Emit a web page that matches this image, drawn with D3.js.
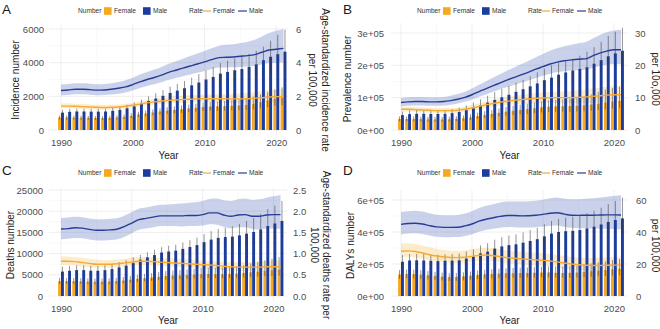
<!DOCTYPE html>
<html>
<head>
<meta charset="utf-8">
<script src="https://cdn.jsdelivr.net/npm/d3@7"></script>
<style>
body { margin: 0; background: #fff; }
svg { display: block; font-family: "Liberation Sans", Arial, sans-serif; }
</style>
</head>
<body>
<script>
// Years shown on every panel
const years = [1990,1991,1992,1993,1994,1995,1996,1997,1998,1999,2000,2001,2002,2003,2004,2005,
  2006,2007,2008,2009,2010,2011,2012,2013,2014,2015,2016,2017,2018,2019,2020,2021];

// A: incidence counts and age-standardized rates
const incFemale   = [740,740,740,730,720,710,710,720,740,780,840,920,980,1040,1100,1150,1190,1230,1280,1320,1370,1390,1400,1420,1440,1460,1500,1560,1650,1750,1850,1920];
const incFemaleLo = [620,620,620,610,600,590,590,600,620,650,700,770,820,870,920,960,990,1020,1060,1090,1130,1140,1140,1150,1160,1170,1190,1230,1290,1360,1430,1470];
const incFemaleHi = [860,860,860,850,840,830,830,840,870,920,990,1080,1150,1220,1290,1350,1400,1450,1510,1560,1620,1650,1680,1720,1760,1800,1870,1970,2110,2260,2410,2530];
const incMale     = [1030,1080,1100,1100,1090,1090,1100,1140,1200,1290,1400,1560,1720,1870,2030,2200,2340,2480,2650,2820,3000,3150,3350,3450,3550,3620,3750,3900,4150,4350,4500,4650];
const incMaleLo   = [880,920,940,940,930,930,940,970,1020,1100,1190,1320,1460,1590,1720,1860,1970,2080,2210,2340,2480,2590,2740,2800,2860,2890,2960,3050,3220,3340,3420,3500];
const incMaleHi   = [1200,1250,1270,1270,1260,1260,1270,1320,1390,1500,1630,1810,2000,2180,2370,2570,2740,2910,3110,3320,3540,3730,3980,4120,4260,4380,4520,4700,4950,5300,5650,5950];
const incRateFemale   = [1.42,1.42,1.41,1.39,1.37,1.35,1.34,1.35,1.37,1.41,1.47,1.54,1.61,1.67,1.72,1.76,1.79,1.81,1.83,1.85,1.86,1.86,1.86,1.85,1.85,1.85,1.86,1.88,1.92,1.96,1.98,1.98];
const incRateFemaleLo = [1.29,1.29,1.28,1.26,1.24,1.22,1.21,1.22,1.24,1.27,1.33,1.39,1.45,1.50,1.54,1.58,1.60,1.61,1.62,1.63,1.63,1.62,1.61,1.60,1.59,1.58,1.58,1.59,1.61,1.63,1.64,1.63];
const incRateFemaleHi = [1.57,1.57,1.56,1.54,1.52,1.50,1.49,1.50,1.52,1.56,1.62,1.70,1.78,1.85,1.91,1.96,2.00,2.03,2.06,2.09,2.11,2.12,2.13,2.14,2.16,2.18,2.21,2.25,2.31,2.37,2.41,2.43];
const incRateMale   = [2.35,2.38,2.42,2.42,2.40,2.37,2.38,2.42,2.48,2.56,2.70,2.86,3.00,3.12,3.26,3.42,3.55,3.68,3.80,3.92,4.05,4.18,4.30,4.32,4.34,4.38,4.42,4.48,4.62,4.75,4.80,4.85];
const incRateMaleLo = [2.05,2.08,2.12,2.12,2.10,2.07,2.08,2.11,2.16,2.23,2.36,2.50,2.62,2.72,2.84,2.98,3.09,3.20,3.30,3.40,3.51,3.62,3.72,3.72,3.73,3.75,3.77,3.80,3.90,3.98,4.00,4.02];
const incRateMaleHi = [2.70,2.73,2.77,2.77,2.75,2.72,2.73,2.78,2.85,2.95,3.10,3.29,3.45,3.59,3.75,3.93,4.09,4.24,4.39,4.54,4.70,4.86,5.01,5.06,5.10,5.17,5.25,5.36,5.56,5.76,5.89,6.00];
const incTicks = [0, 2000, 4000, 6000];
const incTickLabels = ["0", "2000", "4000", "6000"];
const incRateTicks = [0, 2, 4, 6];
const incRateTickLabels = ["0", "2", "4", "6"];

// B: prevalence
const prevFemale   = [34000,34000,34000,33500,33000,32500,32500,33000,34000,36000,39000,43000,46500,49500,53000,56500,59500,62000,64500,67000,70000,72000,73000,73500,74000,75000,76500,78500,81500,85000,88000,90000];
const prevFemaleLo = [27000,27000,27000,26500,26000,25800,25800,26200,27000,28600,31000,34000,36800,39000,41700,44300,46600,48400,50200,52000,54200,55600,56200,56400,56600,57200,58200,59600,61600,64000,66000,67300];
const prevFemaleHi = [42000,42000,42000,41500,41000,40500,40500,41000,42300,44800,48600,53700,58100,62000,66500,71000,75000,78300,81600,85000,89000,91800,93500,94500,96000,99000,104000,110000,118000,125000,130000,134000];
const prevMale     = [46000,49000,50000,50000,49500,49500,50000,52000,55500,61000,68000,76000,84500,93000,101000,109000,118000,126000,135000,144000,154000,162000,171000,178000,184000,189000,194000,205000,216000,228000,237000,245000];
const prevMaleLo   = [37700,40200,41000,41000,40600,40600,41000,42600,45500,50000,55800,62300,69300,76300,82800,89400,96800,103300,110700,118000,126300,132800,140200,146000,150900,155000,159100,168100,177100,187000,194300,200900];
const prevMaleHi   = [57000,60500,62000,62000,61300,61300,62000,64500,69000,76000,85000,95000,106000,117000,127000,137000,146000,155000,166000,178000,190000,200000,207000,212000,220000,230000,242000,256000,273000,291000,304000,316000];
const prevRateFemale   = [6.4,6.4,6.3,6.2,6.1,6.0,6.0,6.0,6.1,6.4,6.8,7.3,7.8,8.2,8.6,8.9,9.2,9.4,9.6,9.8,9.9,10.0,10.0,10.0,10.0,10.1,10.2,10.4,10.6,10.8,10.9,10.9];
const prevRateFemaleLo = [5.7,5.7,5.6,5.5,5.4,5.3,5.3,5.3,5.4,5.6,6.0,6.4,6.8,7.2,7.5,7.7,7.9,8.1,8.2,8.3,8.4,8.4,8.4,8.3,8.3,8.3,8.3,8.4,8.5,8.6,8.6,8.5];
const prevRateFemaleHi = [7.2,7.2,7.1,7.0,6.9,6.8,6.8,6.8,6.9,7.2,7.7,8.3,8.9,9.3,9.8,10.2,10.6,10.8,11.1,11.4,11.6,11.8,11.9,12.0,12.1,12.3,12.5,12.8,13.1,13.4,13.6,13.7];
const prevRateMale   = [8.5,8.7,8.8,8.8,8.7,8.7,8.8,9.1,9.5,10.1,10.9,11.9,12.8,13.7,14.6,15.5,16.3,17.1,17.9,18.8,19.6,20.4,21.0,21.4,21.7,21.9,22.0,22.9,23.8,24.4,24.8,24.8];
const prevRateMaleLo = [7.3,7.5,7.6,7.6,7.5,7.5,7.6,7.8,8.2,8.7,9.4,10.3,11.0,11.8,12.6,13.3,14.0,14.7,15.4,16.1,16.8,17.4,17.9,18.2,18.4,18.5,18.6,19.2,19.8,20.2,20.4,20.3];
const prevRateMaleHi = [9.9,10.1,10.2,10.2,10.1,10.1,10.2,10.6,11.1,11.8,12.8,14.0,15.1,16.2,17.3,18.4,19.4,20.4,21.4,22.5,23.5,24.5,25.3,25.9,26.4,26.8,27.2,28.3,29.4,30.2,30.8,31.0];
const prevTicks = [0, 100000, 200000, 300000];
const prevTickLabels = ["0e+00", "1e+05", "2e+05", "3e+05"];
const prevRateTicks = [0, 10, 20, 30];
const prevRateTickLabels = ["0", "10", "20", "30"];

// C: deaths
const deathFemale   = [3500,3500,3500,3450,3400,3350,3350,3400,3500,3650,3850,4050,4200,4350,4550,4700,4800,4850,4950,5050,5150,5200,5150,5150,5200,5300,5450,5600,5750,5900,6050,6200];
const deathFemaleLo = [2870,2870,2870,2830,2790,2750,2750,2790,2870,2990,3160,3320,3440,3570,3730,3850,3940,3980,4060,4140,4220,4260,4220,4200,4220,4290,4390,4480,4570,4660,4750,4830];
const deathFemaleHi = [4250,4250,4250,4200,4150,4100,4100,4150,4280,4470,4720,4980,5180,5380,5640,5850,6000,6100,6260,6420,6580,6680,6660,6700,6800,6980,7220,7700,8000,8400,8800,9200];
const deathMale     = [5750,5950,6100,6100,5950,5950,6100,6350,6750,7150,7750,8550,9100,9650,10250,10500,10700,11100,11550,12000,12700,13300,13700,13900,14000,14300,14700,15100,15700,16500,17100,17700];
const deathMaleLo   = [4900,5050,5200,5200,5050,5050,5200,5400,5750,6100,6600,7250,7700,8150,8650,8850,9000,9300,9650,10000,10550,11000,11300,11400,11450,11650,11900,12150,12550,13100,13500,13900];
const deathMaleHi   = [6900,7100,7250,7250,7100,7100,7250,7550,8000,8450,9150,9700,10300,10900,11500,11850,12100,12600,13200,13800,14600,15300,15800,16100,16400,17000,17700,18400,19400,20500,21300,22400];
const deathRateFemale   = [0.82,0.82,0.81,0.79,0.77,0.75,0.75,0.75,0.76,0.78,0.80,0.82,0.82,0.81,0.80,0.79,0.78,0.77,0.76,0.75,0.74,0.73,0.72,0.70,0.69,0.68,0.68,0.68,0.68,0.69,0.69,0.69];
const deathRateFemaleLo = [0.73,0.73,0.72,0.70,0.68,0.67,0.67,0.67,0.68,0.70,0.72,0.73,0.73,0.72,0.71,0.70,0.69,0.68,0.67,0.66,0.65,0.64,0.63,0.61,0.60,0.59,0.59,0.58,0.58,0.58,0.58,0.57];
const deathRateFemaleHi = [0.93,0.93,0.92,0.90,0.88,0.86,0.85,0.85,0.86,0.88,0.90,0.92,0.92,0.91,0.90,0.89,0.88,0.87,0.86,0.85,0.84,0.83,0.82,0.81,0.80,0.80,0.80,0.81,0.82,0.83,0.84,0.85];
const deathRateMale   = [1.58,1.59,1.61,1.60,1.57,1.55,1.55,1.56,1.58,1.64,1.72,1.80,1.83,1.86,1.89,1.89,1.89,1.89,1.90,1.90,1.92,1.96,1.96,1.91,1.88,1.91,1.92,1.88,1.88,1.91,1.92,1.92];
const deathRateMaleLo = [1.34,1.35,1.37,1.36,1.33,1.31,1.31,1.32,1.34,1.40,1.48,1.56,1.59,1.62,1.65,1.65,1.65,1.64,1.65,1.65,1.66,1.69,1.68,1.63,1.60,1.62,1.62,1.58,1.57,1.59,1.59,1.58];
const deathRateMaleHi = [1.84,1.85,1.87,1.86,1.83,1.81,1.81,1.82,1.84,1.90,1.98,2.06,2.09,2.12,2.15,2.16,2.17,2.18,2.20,2.21,2.24,2.29,2.30,2.26,2.24,2.28,2.30,2.27,2.28,2.32,2.35,2.38];
const deathTicks = [0, 5000, 10000, 15000, 20000, 25000];
const deathTickLabels = ["0", "5000", "10000", "15000", "20000", "25000"];
const deathRateTicks = [0, 0.5, 1, 1.5, 2, 2.5];
const deathRateTickLabels = ["0.0", "0.5", "1.0", "1.5", "2.0", "2.5"];

// D: DALYs
const dalyFemale   = [135000,138000,137000,134000,130000,126000,121000,118000,119000,123000,127000,132000,136000,138000,140000,142000,143000,143000,144000,145000,146000,147000,145000,144000,145000,147000,151000,155000,158000,162000,166000,170000];
const dalyFemaleLo = [108000,110000,110000,107000,104000,101000,97000,94000,95000,98000,102000,106000,109000,110000,112000,114000,114000,114000,115000,116000,117000,117000,115000,114000,114000,115000,118000,121000,123000,125000,128000,130000];
const dalyFemaleHi = [162000,166000,165000,161000,156000,151000,146000,142000,143000,148000,153000,159000,164000,167000,170000,173000,175000,176000,178000,180000,182000,184000,183000,183000,186000,190000,197000,204000,210000,217000,224000,231000];
const dalyMale     = [214000,222000,223000,222000,220000,218000,220000,221000,223000,234000,246000,266000,277000,296000,310000,318000,323000,333000,344000,355000,373000,390000,400000,405000,407000,412000,422000,433000,447000,463000,475000,485000];
const dalyMaleLo   = [180000,186000,187000,186000,185000,183000,185000,186000,187000,196000,206000,223000,232000,248000,259000,265000,269000,277000,286000,295000,309000,322000,330000,333000,334000,337000,344000,352000,362000,374000,382000,388000];
const dalyMaleHi   = [255000,262000,263000,262000,260000,258000,260000,262000,265000,278000,292000,316000,330000,352000,368000,378000,385000,398000,412000,426000,448000,469000,482000,490000,495000,503000,517000,533000,552000,575000,594000,615000];
const dalyRateFemale   = [28.0,28.2,27.8,26.9,25.8,25.0,24.5,24.1,24.0,24.3,24.8,25.4,25.6,25.2,24.6,24.0,23.6,23.2,22.9,22.6,22.3,21.9,21.3,20.6,20.0,19.5,19.2,19.1,19.1,19.2,19.3,19.3];
const dalyRateFemaleLo = [24.3,24.5,24.1,23.3,22.3,21.6,21.2,20.8,20.7,21.0,21.4,21.9,22.0,21.6,21.0,20.5,20.1,19.7,19.4,19.1,18.8,18.4,17.8,17.2,16.6,16.1,15.8,15.6,15.5,15.5,15.5,15.4];
const dalyRateFemaleHi = [32.8,33.0,32.6,31.6,30.4,29.4,28.8,28.3,28.2,28.6,29.2,29.9,30.2,29.8,29.1,28.4,28.0,27.6,27.3,27.0,26.7,26.3,25.7,25.0,24.4,24.0,23.8,23.8,23.9,24.1,24.3,24.4];
const dalyRateMale   = [44.8,45.3,45.5,45.0,44.0,43.2,42.9,42.9,43.0,43.8,45.0,46.8,48.0,48.9,49.8,50.3,50.3,50.1,50.2,50.5,51.0,51.7,52.0,51.2,50.5,50.4,50.5,50.5,50.6,50.7,50.7,50.6];
const dalyRateMaleLo = [38.5,39.0,39.2,38.7,37.8,37.0,36.7,36.7,36.8,37.5,38.6,40.2,41.2,42.0,42.7,43.1,43.0,42.8,42.8,43.0,43.4,43.9,44.1,43.3,42.6,42.4,42.4,42.2,42.1,42.0,41.8,41.5];
const dalyRateMaleHi = [52.5,53.0,53.3,52.8,51.7,50.8,50.5,50.5,50.7,51.6,53.0,55.0,56.4,57.4,58.4,59.0,59.1,59.0,59.2,59.6,60.2,61.1,61.6,60.9,60.4,60.5,60.8,61.1,61.6,62.1,62.5,62.9];
const dalyTicks = [0, 200000, 400000, 600000];
const dalyTickLabels = ["0e+00", "2e+05", "4e+05", "6e+05"];
const dalyRateTicks = [0, 20, 40, 60];
const dalyRateTickLabels = ["0", "20", "40", "60"];

const yearTicks = [1990, 2000, 2010, 2020];
const yearMinor = [1995, 2005, 2015];

const ORANGE = "#F6A821", BLUE = "#1C3D9F";
const LINE_F = "#F2AA3A", LINE_M = "#2B3C97";
const RIB_F = "#F9B93D", RIB_M = "#5A72C2";

const panels = [
  { letter: "A", yTitle: "Incidence number", rTitle: ["Age-standardized incidence rate", "per 100,000"],
    f: [incFemale, incFemaleLo, incFemaleHi], m: [incMale, incMaleLo, incMaleHi],
    rf: [incRateFemale, incRateFemaleLo, incRateFemaleHi], rm: [incRateMale, incRateMaleLo, incRateMaleHi],
    ticks: incTicks, tickLabels: incTickLabels, rTicks: incRateTicks, rTickLabels: incRateTickLabels, factor: 1000,
    box: { x0: 61, x1: 283.5, left: 49, right: 288, top: 25, bottom: 135, y0: 130, yTop: 29,
           tickR: 44, rTickL: 296, yTitleX: 15, rTitleX: [325.5, 312.5], xLabY: 146.5, xTitleY: 158.5,
           letterX: 2, letterY: 14, legX: 78, legY: 11 } },
  { letter: "B", yTitle: "Prevalence number", rTitle: ["per 10o,000"],
    f: [prevFemale, prevFemaleLo, prevFemaleHi], m: [prevMale, prevMaleLo, prevMaleHi],
    rf: [prevRateFemale, prevRateFemaleLo, prevRateFemaleHi], rm: [prevRateMale, prevRateMaleLo, prevRateMaleHi],
    ticks: prevTicks, tickLabels: prevTickLabels, rTicks: prevRateTicks, rTickLabels: prevRateTickLabels, factor: 10000,
    box: { x0: 401, x1: 621, left: 391, right: 628, top: 23, bottom: 135, y0: 130, yTop: 33,
           tickR: 384, rTickL: 635, yTitleX: 347, rTitleX: [655], xLabY: 146.5, xTitleY: 158.5,
           letterX: 343, letterY: 14, legX: 417, legY: 11 } },
  { letter: "C", yTitle: "Deaths number", rTitle: ["Age-standardized deaths rate per", "100,000"],
    f: [deathFemale, deathFemaleLo, deathFemaleHi], m: [deathMale, deathMaleLo, deathMaleHi],
    rf: [deathRateFemale, deathRateFemaleLo, deathRateFemaleHi], rm: [deathRateMale, deathRateMaleLo, deathRateMaleHi],
    ticks: deathTicks, tickLabels: deathTickLabels, rTicks: deathRateTicks, rTickLabels: deathRateTickLabels, factor: 10000,
    box: { x0: 61, x1: 280.5, left: 49, right: 287, top: 189, bottom: 301, y0: 296, yTop: 190,
           tickR: 43, rTickL: 293, yTitleX: 10, rTitleX: [326.5, 314.5], xLabY: 312.5, xTitleY: 324,
           letterX: 2, letterY: 175, legX: 78, legY: 173 } },
  { letter: "D", yTitle: "DALYs number", rTitle: ["per 100,000"],
    f: [dalyFemale, dalyFemaleLo, dalyFemaleHi], m: [dalyMale, dalyMaleLo, dalyMaleHi],
    rf: [dalyRateFemale, dalyRateFemaleLo, dalyRateFemaleHi], rm: [dalyRateMale, dalyRateMaleLo, dalyRateMaleHi],
    ticks: dalyTicks, tickLabels: dalyTickLabels, rTicks: dalyRateTicks, rTickLabels: dalyRateTickLabels, factor: 10000,
    box: { x0: 401, x1: 621, left: 391, right: 628, top: 190, bottom: 301, y0: 296, yTop: 200,
           tickR: 384, rTickL: 636, yTitleX: 350, rTitleX: [655], xLabY: 312.5, xTitleY: 324,
           letterX: 343, letterY: 175, legX: 417, legY: 173 } }
];

const svg = d3.select("body").append("svg")
  .attr("width", 660)
  .attr("height", 329);

panels.forEach(function(p) {
  const b = p.box;
  const g = svg.append("g");
  const topTick = p.ticks[p.ticks.length - 1];

  const x = d3.scaleLinear().domain([1990, 2021]).range([b.x0, b.x1]);
  const y = d3.scaleLinear().domain([0, topTick]).range([b.y0, b.yTop]);
  // secondary axis shares the pixel range, rate = number / factor
  const yr = d3.scaleLinear().domain([0, topTick / p.factor]).range([b.y0, b.yTop]);

  const step = x(1991) - x(1990);
  const bw = step * 0.41;

  // grid: minor lines between major ticks
  const minorY = p.ticks.slice(1).map(function(t, i) { return (t + p.ticks[i]) / 2; });
  g.selectAll("line.ymin").data(minorY).enter().append("line")
    .attr("x1", b.left).attr("x2", b.right)
    .attr("y1", function(d) { return y(d); }).attr("y2", function(d) { return y(d); })
    .attr("stroke", "#f2f2f2").attr("stroke-width", 0.5);
  g.selectAll("line.xmin").data(yearMinor).enter().append("line")
    .attr("y1", b.top).attr("y2", b.bottom)
    .attr("x1", function(d) { return x(d); }).attr("x2", function(d) { return x(d); })
    .attr("stroke", "#f2f2f2").attr("stroke-width", 0.5);
  g.selectAll("line.ymaj").data(p.ticks).enter().append("line")
    .attr("x1", b.left).attr("x2", b.right)
    .attr("y1", function(d) { return y(d); }).attr("y2", function(d) { return y(d); })
    .attr("stroke", "#e8e8e8").attr("stroke-width", 0.7);
  g.selectAll("line.xmaj").data(yearTicks).enter().append("line")
    .attr("y1", b.top).attr("y2", b.bottom)
    .attr("x1", function(d) { return x(d); }).attr("x2", function(d) { return x(d); })
    .attr("stroke", "#e8e8e8").attr("stroke-width", 0.7);

  // uncertainty ribbons for the rates
  function ribbon(set, colour, op) {
    const area = d3.area()
      .x(function(d, i) { return x(years[i]); })
      .y0(function(d, i) { return yr(set[1][i]); })
      .y1(function(d, i) { return yr(set[2][i]); })
      .curve(d3.curveMonotoneX);
    g.append("path").datum(set[0]).attr("d", area)
      .attr("fill", colour).attr("fill-opacity", op);
  }
  ribbon(p.rm, RIB_M, 0.32);
  ribbon(p.rf, RIB_F, 0.28);

  // dodged bars: female left, male right
  g.selectAll("rect.f").data(p.f[0]).enter().append("rect")
    .attr("x", function(d, i) { return x(years[i]) - bw; })
    .attr("y", function(d) { return y(d); })
    .attr("width", bw)
    .attr("height", function(d) { return y(0) - y(d); })
    .attr("fill", ORANGE);
  g.selectAll("rect.m").data(p.m[0]).enter().append("rect")
    .attr("x", function(d, i) { return x(years[i]); })
    .attr("y", function(d) { return y(d); })
    .attr("width", bw)
    .attr("height", function(d) { return y(0) - y(d); })
    .attr("fill", BLUE);

  // error bars
  function errors(set, shift) {
    g.selectAll(null).data(set[0]).enter().append("line")
      .attr("x1", function(d, i) { return x(years[i]) + shift; })
      .attr("x2", function(d, i) { return x(years[i]) + shift; })
      .attr("y1", function(d, i) { return y(set[1][i]); })
      .attr("y2", function(d, i) { return y(set[2][i]); })
      .attr("stroke", "#3a3a3a").attr("stroke-opacity", 0.6).attr("stroke-width", 0.9);
  }
  errors(p.f, -bw / 2);
  errors(p.m, bw / 2);

  // rate lines
  function rateLine(set, colour) {
    const line = d3.line()
      .x(function(d, i) { return x(years[i]); })
      .y(function(d) { return yr(d); })
      .curve(d3.curveMonotoneX);
    g.append("path").datum(set[0]).attr("d", line)
      .attr("fill", "none").attr("stroke", colour).attr("stroke-width", 1.4);
  }
  rateLine(p.rf, LINE_F);
  rateLine(p.rm, LINE_M);

  // axes
  const leftAxis = d3.axisLeft(y).tickValues(p.ticks)
    .tickFormat(function(d, i) { return p.tickLabels[i]; }).tickSize(0).tickPadding(0);
  const la = g.append("g").attr("transform", "translate(" + b.tickR + ",0)").call(leftAxis);

  const rightAxis = d3.axisRight(yr).tickValues(p.rTicks)
    .tickFormat(function(d, i) { return p.rTickLabels[i]; }).tickSize(0).tickPadding(0);
  const ra = g.append("g").attr("transform", "translate(" + b.rTickL + ",0)").call(rightAxis);

  const bottomAxis = d3.axisBottom(x).tickValues(yearTicks)
    .tickFormat(d3.format("d")).tickSize(0).tickPadding(0);
  const ba = g.append("g").attr("transform", "translate(0," + (b.xLabY - 7) + ")").call(bottomAxis);

  [la, ra, ba].forEach(function(a) {
    a.select(".domain").remove();
    a.selectAll("text").attr("fill", "#4d4d4d").attr("font-size", "9.5px")
      .attr("font-family", "'Liberation Sans', Arial, sans-serif");
  });
  ba.selectAll("text").attr("dy", "0.71em");

  // titles
  g.append("text")
    .attr("transform", "translate(" + b.yTitleX + "," + ((b.top + b.bottom) / 2) + ") rotate(-90)")
    .attr("text-anchor", "middle").attr("dominant-baseline", "central")
    .attr("font-size", "10px").attr("fill", "#222")
    .text(p.yTitle);
  p.rTitle.forEach(function(t, i) {
    g.append("text")
      .attr("transform", "translate(" + b.rTitleX[i] + "," + ((b.top + b.bottom) / 2) + ") rotate(90)")
      .attr("text-anchor", "middle").attr("dominant-baseline", "central")
      .attr("font-size", "10px").attr("fill", "#222")
      .text(t);
  });
  g.append("text")
    .attr("x", (b.left + b.right) / 2).attr("y", b.xTitleY)
    .attr("text-anchor", "middle").attr("font-size", "10px").attr("fill", "#222")
    .text("Year");
  g.append("text")
    .attr("x", b.letterX).attr("y", b.letterY)
    .attr("font-size", "13.5px").attr("fill", "#1a1a1a")
    .text(p.letter);

  // legend row
  const lg = g.append("g").attr("transform", "translate(" + b.legX + "," + b.legY + ")")
    .attr("font-size", "6.6px").attr("fill", "#333");
  lg.append("text").attr("x", 0).attr("dy", "0.35em").text("Number");
  lg.append("rect").attr("x", 26).attr("y", -3.8).attr("width", 7.6).attr("height", 7.6).attr("fill", ORANGE);
  lg.append("text").attr("x", 36).attr("dy", "0.35em").text("Female");
  lg.append("rect").attr("x", 65).attr("y", -3.8).attr("width", 7.6).attr("height", 7.6).attr("fill", BLUE);
  lg.append("text").attr("x", 75).attr("dy", "0.35em").text("Male");
  lg.append("text").attr("x", 111).attr("dy", "0.35em").text("Rate");
  lg.append("line").attr("x1", 125).attr("x2", 133).attr("stroke", LINE_F).attr("stroke-width", 1.2);
  lg.append("text").attr("x", 135).attr("dy", "0.35em").text("Female");
  lg.append("line").attr("x1", 160).attr("x2", 169).attr("stroke", LINE_M).attr("stroke-width", 1.2);
  lg.append("text").attr("x", 171).attr("dy", "0.35em").text("Male");
});
</script>
</body>
</html>
